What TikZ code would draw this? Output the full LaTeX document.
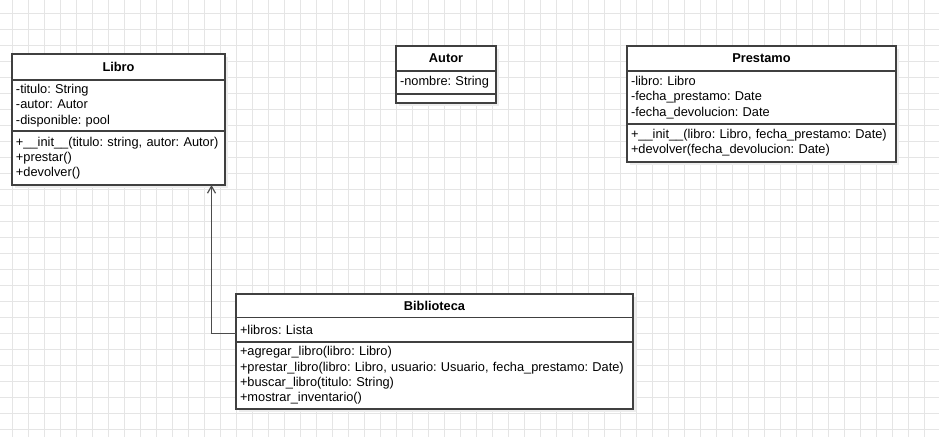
\documentclass[tikz,border=0pt]{standalone}
\usepackage{fontspec}
\setmainfont{Liberation Sans}
\usetikzlibrary{positioning,shadows,arrows.meta}

\begin{document}
\begin{tikzpicture}
		[x=1pt, y=-1pt,
		gridline/.style ={draw=black!10, line width=1pt},
		classhead/.style ={draw=black!75, line width=1.1pt, fill=white, text width=#1, align=center, inner sep=0pt, outer sep=0pt, font=\fontsize{12.8}{15.3}\selectfont\frenchspacing\bfseries, drop shadow={shadow xshift=3pt, shadow yshift=-3pt, fill=black!7, opacity=1}},
		classpart/.style ={classhead=#1, align=left, inner xsep=4pt, font=\fontsize{12.8}{15.3}\selectfont\frenchspacing},
		assoc/.style ={draw=black!70, line width=1.2pt, -{Straight Barb[length=7pt,width=8pt]}},
		]

		% grid
		\useasboundingbox (0,0) rectangle (939,437);
		\foreach \gx in {12,28,...,939} \draw[gridline] (\gx,0) -- (\gx,437);
		\foreach \gy in {13.7,29.7,...,437} \draw[gridline] (0,\gy) -- (939,\gy);

		% Libro
		\draw (12,54) node[classhead=213pt, minimum height=26pt, anchor=north west] (libro) {Libro};
		\node[classpart=205pt, minimum height=51pt, below=0pt of libro] (libroAttr) {-titulo: String\\-autor: Autor\\-disponible: pool};
		\node[classpart=205pt, minimum height=54pt, below=0pt of libroAttr] (libroOps) {+\_\_init\_\_(titulo: string, autor: Autor)\\+prestar()\\+devolver()};

		% Autor
		\draw (396,46) node[classhead=100pt, minimum height=25pt, anchor=north west] (autor) {Autor};
		\node[classpart=92pt, minimum height=23pt, below=0pt of autor] (autorAttr) {-nombre: String};
		\node[classpart=92pt, minimum height=9pt, below=0pt of autorAttr] (autorOps) {};

		% Prestamo
		\draw (627,46) node[classhead=269pt, minimum height=25pt, anchor=north west] (prestamo) {Prestamo};
		\node[classpart=261pt, minimum height=53pt, below=0pt of prestamo] (prestamoAttr) {-libro: Libro\\-fecha\_prestamo: Date\\-fecha\_devolucion: Date};
		\node[classpart=261pt, minimum height=38pt, below=0pt of prestamoAttr] (prestamoOps) {+\_\_init\_\_(libro: Libro, fecha\_prestamo: Date)\\+devolver(fecha\_devolucion: Date)};

		% Biblioteca
		\draw (236,294) node[classhead=397pt, minimum height=23.5pt, anchor=north west] (biblio) {Biblioteca};
		\node[classpart=389pt, minimum height=24.5pt, below=0pt of biblio] (biblioAttr) {+libros: Lista};
		\node[classpart=389pt, minimum height=67pt, below=0pt of biblioAttr] (biblioOps) {+agregar\_libro(libro: Libro)\\+prestar\_libro(libro: Libro, usuario: Usuario, fecha\_prestamo: Date)\\+buscar\_libro(titulo: String)\\+mostrar\_inventario()};

		\draw[assoc] ([yshift=-3.5pt]biblioAttr.west) -| ([xshift=-13.5pt]libroOps.south east);
	\end{tikzpicture}
\end{document}
